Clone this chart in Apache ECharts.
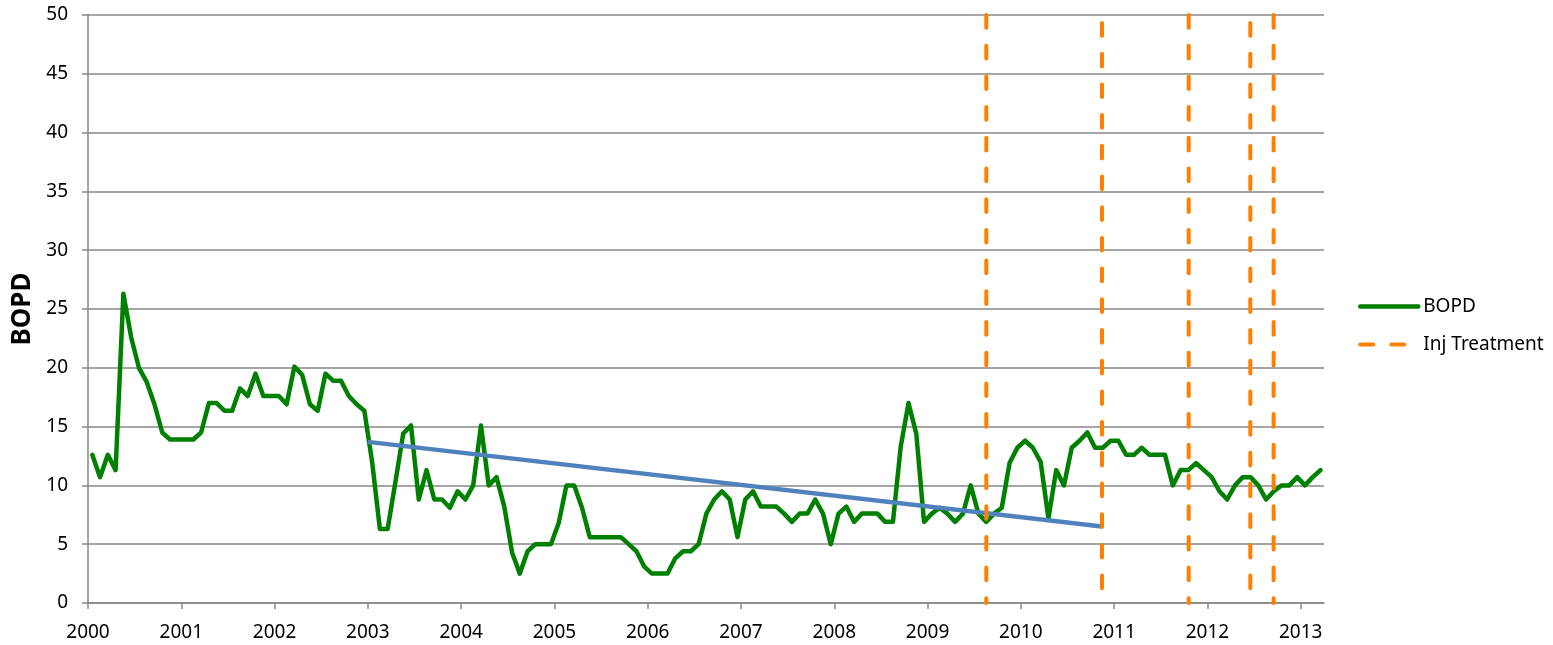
<!DOCTYPE html>
<html>
<head>
<meta charset="utf-8">
<title>BOPD</title>
<script src="https://cdn.jsdelivr.net/npm/echarts@6/dist/echarts.min.js"></script>
<style>
  html, body { margin: 0; padding: 0; background: #fff; }
  #chart { width: 1553px; height: 645px; }
</style>
</head>
<body>
<div id="chart"></div>
<script>
// monthly production, Jan 2000 .. Mar 2013
var startYear = 2000;
var bopd = [
  12.6, 10.7, 12.6, 11.3, 26.3, 22.6, 20.0, 18.8, 16.9, 14.5, 13.9, 13.9,
  13.9, 13.9, 14.5, 17.0, 17.0, 16.35, 16.35, 18.25, 17.6, 19.5, 17.6, 17.6,
  17.6, 16.9, 20.1, 19.4, 16.9, 16.35, 19.5, 18.9, 18.9, 17.6, 16.9, 16.35,
  12.0, 6.3, 6.3, 10.3, 14.4, 15.1, 8.8, 11.3, 8.8, 8.8, 8.1, 9.5,
  8.8, 10.0, 15.1, 10.0, 10.7, 8.2, 4.3, 2.5, 4.4, 5.0, 5.0, 5.0,
  6.8, 10.0, 10.0, 8.1, 5.6, 5.6, 5.6, 5.6, 5.6, 5.0, 4.4, 3.1,
  2.5, 2.5, 2.5, 3.8, 4.4, 4.4, 5.0, 7.6, 8.8, 9.5, 8.8, 5.6,
  8.8, 9.5, 8.2, 8.2, 8.2, 7.6, 6.9, 7.6, 7.6, 8.8, 7.6, 5.0,
  7.6, 8.2, 6.9, 7.6, 7.6, 7.6, 6.9, 6.9, 13.3, 17.0, 14.4, 6.9,
  7.6, 8.1, 7.6, 6.9, 7.6, 10.0, 7.6, 6.9, 7.6, 8.1, 11.9, 13.2,
  13.8, 13.2, 12.0, 7.2, 11.3, 10.0, 13.2, 13.8, 14.5, 13.2, 13.2, 13.8,
  13.8, 12.6, 12.6, 13.2, 12.6, 12.6, 12.6, 10.0, 11.3, 11.3, 11.9, 11.3,
  10.7, 9.5, 8.8, 10.0, 10.7, 10.7, 10.0, 8.8, 9.5, 10.0, 10.0, 10.7,
  10.0, 10.7, 11.3
];

// injection treatment dates (decimal years)
var treatments = [2009.63, 2010.87, 2011.80, 2012.46, 2012.71];

// decline trend
var trendX = [2003.0, 2010.87];
var trendY = [13.7, 6.5];

var years = [];
for (var y = 2000; y <= 2013; y++) years.push(y);

var chart = echarts.init(document.getElementById("chart"));
var font = "'Noto Sans', 'Open Sans', sans-serif";
var gray = "#878787";
var dash = [12.7, 18];

var bopdData = bopd.map(function (v, i) {
  return [startYear + (i + 0.55) / 12, v];
});

var series = [
  {
    name: "BOPD",
    type: "line",
    data: bopdData,
    symbol: "none",
    lineStyle: { color: "#008000", width: 4.5, join: "round", cap: "round" },
    itemStyle: { color: "#008000" },
    z: 2
  },
  {
    name: "trend",
    type: "line",
    data: [[trendX[0], trendY[0]], [trendX[1], trendY[1]]],
    symbol: "none",
    lineStyle: { color: "#4f81bd", width: 4.5 },
    z: 3
  }
];

treatments.forEach(function (d, i) {
  series.push({
    name: "Inj Treatment",
    type: "line",
    data: [[d, 50], [d, 0]],
    symbol: "none",
    clip: false,
    itemStyle: { color: "#ff8000" },
    lineStyle: {
      color: "#ff8000",
      width: 4,
      type: dash,
      cap: "round",
      dashOffset: (i === 1 || i === 3) ? 22.7 : 0
    },
    z: 4
  });
});

var option = {
  animation: false,
  grid: { left: 88, right: 229, top: 15, bottom: 42 },
  legend: {
    orient: "vertical",
    left: 1353,
    top: 292,
    itemWidth: 58,
    itemHeight: 20,
    itemGap: 19,
    textStyle: { fontFamily: font, fontSize: 19, color: "#000" },
    data: [
      {
        name: "BOPD",
        itemStyle: { opacity: 0 },
        lineStyle: { color: "#008000", width: 4.5 }
      },
      {
        name: "Inj Treatment",
        itemStyle: { opacity: 0 },
        lineStyle: { color: "#ff8000", width: 4, type: [13, 18], cap: "round" }
      }
    ]
  },
  xAxis: {
    type: "value",
    min: 2000,
    max: 2013.25,
    interval: 1,
    axisLine: { lineStyle: { color: gray, width: 1.5 } },
    axisTick: { show: true, length: 6, customValues: years, lineStyle: { color: gray, width: 1.5 } },
    axisLabel: {
      customValues: years,
      margin: 20,
      fontFamily: font,
      fontSize: 19,
      color: "#000",
      formatter: function (v) { return String(v); }
    },
    splitLine: { show: false }
  },
  yAxis: {
    type: "value",
    min: 0,
    max: 50,
    interval: 5,
    name: "BOPD",
    nameLocation: "middle",
    nameGap: 46,
    nameRotate: 90,
    nameTextStyle: { fontFamily: font, fontSize: 26, fontWeight: "bold", color: "#000" },
    axisLine: { show: true, lineStyle: { color: gray, width: 1.5 } },
    axisTick: { show: true, length: 6, lineStyle: { color: gray, width: 1.5 } },
    axisLabel: { margin: 20, fontFamily: font, fontSize: 19, color: "#000" },
    splitLine: { show: true, lineStyle: { color: gray, width: 1.5 } }
  },
  series: series
};

chart.setOption(option);
</script>
</body>
</html>
